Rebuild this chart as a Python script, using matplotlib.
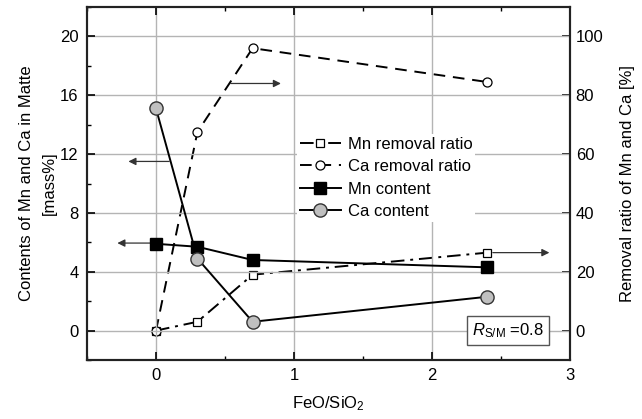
import matplotlib.pyplot as plt
from matplotlib.ticker import MultipleLocator

plt.rcParams["font.family"] = ["Liberation Sans", "DejaVu Sans"]
plt.rcParams["font.size"] = 12
plt.rcParams["mathtext.fontset"] = "custom"
plt.rcParams["mathtext.rm"] = "Liberation Sans"
plt.rcParams["mathtext.it"] = "Liberation Sans:italic"

# FeO/SiO2 ratios
feo_sio2 = [0.0, 0.3, 0.7, 2.4]

# contents in matte [mass%]
mn_content = [5.9, 5.7, 4.8, 4.3]
ca_content = [15.1, 4.9, 0.6, 2.3]

# removal ratios [%]
mn_removal = [0.0, 3.0, 19.0, 26.5]
ca_removal = [0.0, 67.5, 96.0, 84.5]

fig = plt.figure(figsize=(6.42, 4.19), dpi=100)
ax = fig.add_axes([0.1355, 0.1408, 0.7525, 0.8425])
ax2 = ax.twinx()

ax.set_xlim(-0.5, 3)
ax.set_ylim(-2, 22)
ax2.set_ylim(-10, 110)

ax.xaxis.set_major_locator(MultipleLocator(1))
ax.xaxis.set_minor_locator(MultipleLocator(0.5))
ax.yaxis.set_major_locator(MultipleLocator(4))
ax.yaxis.set_minor_locator(MultipleLocator(2))
ax2.yaxis.set_major_locator(MultipleLocator(20))

ax.grid(True, which="major", color="#b4b4b4", linewidth=1.0)
ax.set_axisbelow(True)

ax.tick_params(which="both", direction="in", top=True, right=False, labelsize=12)
ax.tick_params(which="major", length=6, width=1.2, pad=6)
ax.tick_params(which="minor", length=3, width=1.0)
ax2.tick_params(which="both", direction="in", labelsize=12, length=6, width=1.2, pad=4)

for a in (ax, ax2):
    for sp in a.spines.values():
        sp.set_linewidth(1.5)
        sp.set_color("#222222")

# removal ratios (right axis)
l1, = ax2.plot(feo_sio2, mn_removal, color="black", lw=1.4, dashes=(7, 3, 1.5, 3),
               marker="s", markersize=6, markerfacecolor="white",
               markeredgecolor="black", markeredgewidth=0.9,
               label="Mn removal ratio", zorder=3)
l2, = ax2.plot(feo_sio2, ca_removal, color="black", lw=1.4, dashes=(6, 4),
               marker="o", markersize=6.5, markerfacecolor="white",
               markeredgecolor="black", markeredgewidth=0.9,
               label="Ca removal ratio", zorder=3)

# contents (left axis)
l3, = ax.plot(feo_sio2, mn_content, "-", color="black", lw=1.4,
              marker="s", markersize=8, markerfacecolor="black",
              markeredgecolor="black", label="Mn content", zorder=4)
l4, = ax.plot(feo_sio2, ca_content, "-", color="black", lw=1.4,
              marker="o", markersize=9.5, markerfacecolor="#c0c0c0",
              markeredgecolor="#333333", label="Ca content", zorder=4)

arrow = dict(arrowstyle="-|>", color="#333333", lw=0.9,
             mutation_scale=11, shrinkA=0, shrinkB=0)
ax.annotate("", xy=(-0.2, 11.5), xytext=(0.095, 11.5), arrowprops=arrow)
ax.annotate("", xy=(-0.28, 5.95), xytext=(0.0, 5.95), arrowprops=arrow)
ax.annotate("", xy=(0.905, 16.8), xytext=(0.54, 16.8), arrowprops=arrow)
ax.annotate("", xy=(2.85, 5.3), xytext=(2.44, 5.3), arrowprops=arrow)

ax.set_zorder(ax2.get_zorder() + 1)
ax.patch.set_visible(False)

leg = ax.legend(handles=[l1, l2, l3, l4], loc="upper left",
                bbox_to_anchor=(0.435, 0.64), frameon=True, framealpha=1,
                edgecolor="none", facecolor="white", fontsize=12,
                handlelength=2.5, handletextpad=0.4, labelspacing=0.45,
                borderpad=0.15, borderaxespad=0)
leg.set_zorder(10)

ax.text(2.55, 0.0, r"$R_{\mathrm{S/M}}$ =0.8", ha="center", va="center",
        fontsize=12, zorder=6,
        bbox=dict(boxstyle="square,pad=0.3", facecolor="white",
                  edgecolor="#555555", linewidth=1.0))

ax.set_xlabel("FeO/SiO$_2$", fontsize=12, labelpad=8)
ax.set_ylabel("Contents of Mn and Ca in Matte\n[mass%]", fontsize=12,
              linespacing=1.7, labelpad=2)
ax2.set_ylabel("Removal ratio of Mn and Ca [%]", fontsize=12, labelpad=12)

fig.savefig("out.png", dpi=100)
